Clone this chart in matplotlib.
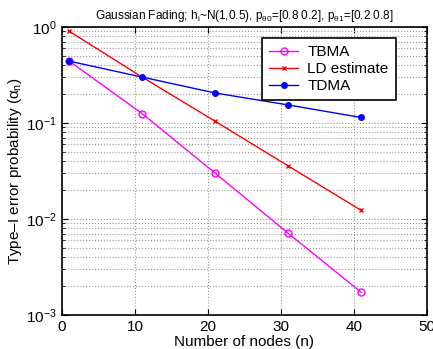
import matplotlib

matplotlib.use("Agg")

import matplotlib.pyplot as plt
from matplotlib.ticker import LogLocator, NullFormatter

nodes = [1, 11, 21, 31, 41]
tbma = [0.44, 0.125, 0.030, 0.0071, 0.00173]
ld_estimate = [0.90, 0.30, 0.104, 0.0357, 0.0123]
tdma = [0.44, 0.30, 0.205, 0.154, 0.114]

x_ticks = [0, 10, 20, 30, 40, 50]
y_ticks = [1e-3, 1e-2, 1e-1, 1e0]

plt.rcParams["font.family"] = ["Liberation Sans", "DejaVu Sans"]
plt.rcParams["mathtext.fontset"] = "custom"
plt.rcParams["mathtext.rm"] = "Liberation Sans"
plt.rcParams["mathtext.it"] = "Liberation Sans"

fig = plt.figure(figsize=(4.33, 3.49), dpi=100)
ax = fig.add_axes([0.143, 0.097, 0.843, 0.826])

ax.semilogy(nodes, tbma, color="#ff00ff", marker="o", markersize=5, markerfacecolor="none",
            linewidth=1, label="TBMA")
ax.semilogy(nodes, ld_estimate, color="#ff0000", marker="x", markersize=3.5, linewidth=1,
            label="LD estimate")
ax.semilogy(nodes, tdma, color="#0000ff", marker=".", markersize=8, linewidth=1, label="TDMA")

ax.set_xlim(0, 50)
ax.set_ylim(1e-3, 1e0)
ax.set_xticks(x_ticks)
ax.set_yticks(y_ticks)
ax.yaxis.set_minor_locator(LogLocator(base=10, subs=range(2, 10)))
ax.yaxis.set_minor_formatter(NullFormatter())
ax.tick_params(which="both", direction="in", top=True, right=True, labelsize=11)
ax.tick_params(which="major", length=4)
ax.tick_params(which="minor", length=2)
ax.grid(which="major", linestyle=":", color="#999999", linewidth=0.8)
ax.grid(which="minor", axis="y", linestyle=":", color="#999999", linewidth=0.8)
for spine in ax.spines.values():
    spine.set_linewidth(1.2)

ax.set_xlabel("Number of nodes (n)", fontsize=11, labelpad=1)
ax.set_ylabel("Type\u2013I error probability ($\\alpha_n$)", fontsize=11, labelpad=2)
ax.set_title("Gaussian Fading; h$_i$~N(1,0.5), p$_{\\theta0}$=[0.8 0.2], p$_{\\theta1}$=[0.2 0.8]",
             fontsize=8.5, pad=6)

leg = ax.legend(loc="upper right", bbox_to_anchor=(0.914, 0.96), fontsize=11, fancybox=False,
                framealpha=1, edgecolor="black", borderpad=0.45, labelspacing=0.2,
                handlelength=1.9, handletextpad=0.6, borderaxespad=0)
leg.get_frame().set_linewidth(1.2)

fig.savefig("out.png", dpi=100)
